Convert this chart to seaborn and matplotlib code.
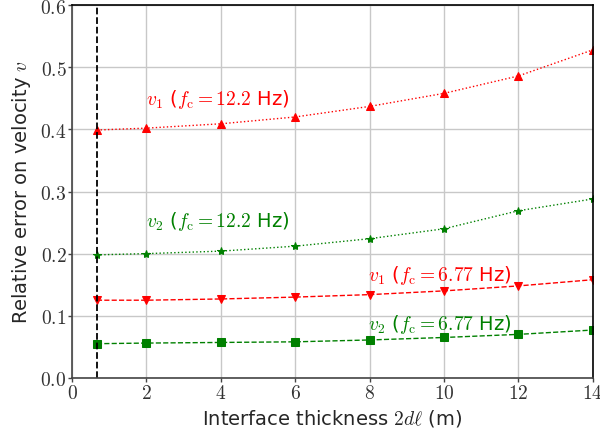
import numpy as np
import pandas as pd
import matplotlib
matplotlib.use("Agg")
import matplotlib.pyplot as plt
import seaborn as sns

thickness = [0.67, 2, 4, 6, 8, 10, 12, 14]
v1_high = [0.399, 0.402, 0.409, 0.420, 0.437, 0.458, 0.486, 0.528]
v2_high = [0.198, 0.200, 0.204, 0.212, 0.224, 0.240, 0.269, 0.288]
v1_low = [0.125, 0.125, 0.127, 0.130, 0.134, 0.140, 0.148, 0.158]
v2_low = [0.055, 0.056, 0.057, 0.058, 0.061, 0.065, 0.070, 0.077]
x_ticks = [0, 2, 4, 6, 8, 10, 12, 14]
y_ticks = [0.0, 0.1, 0.2, 0.3, 0.4, 0.5, 0.6]
vline_x = 0.67

sns.set_style("whitegrid")
plt.rcParams['font.family'] = ['DejaVu Sans']
plt.rcParams['mathtext.fontset'] = 'cm'

fig = plt.figure(figsize=(6.0, 4.39), dpi=100)
ax = fig.add_axes([0.12, 0.137, 0.868, 0.849])

series = [
    (v1_high, 'red', '^', ':', 6),
    (v2_high, 'green', '*', ':', 6),
    (v1_low, 'red', 'v', '--', 6),
    (v2_low, 'green', 's', '--', 5.5),
]
for vals, col, mk, ls, ms in series:
    df = pd.DataFrame({'x': thickness, 'y': vals})
    sns.lineplot(data=df, x='x', y='y', ax=ax, color=col, marker=mk,
                 linestyle=ls, markersize=ms, linewidth=1.0,
                 markeredgecolor=col)

ax.axvline(vline_x, color='black', linestyle='--', linewidth=1.3)

ax.set_xlim(0, 14)
ax.set_ylim(0, 0.6)
ax.set_xticks(x_ticks)
ax.set_yticks(y_ticks)
ax.set_xticklabels([f"${t}$" for t in x_ticks], fontsize=14)
ax.set_yticklabels([f"${t:.1f}$" for t in y_ticks], fontsize=14)
ax.tick_params(axis='both', which='major', direction='out', length=3,
               width=1, color='#444444', labelcolor='#333333', pad=1,
               bottom=True, left=True)
ax.grid(True, color='#c8c8c8', linewidth=1.0)

for s in ['top', 'right']:
    ax.spines[s].set_color('black')
    ax.spines[s].set_linewidth(1.2)
for s in ['left', 'bottom']:
    ax.spines[s].set_color('#444444')
    ax.spines[s].set_linewidth(1.2)

ax.set_xlabel(r"Interface thickness $2d\ell$ (m)", fontsize=14, labelpad=3)
ax.set_ylabel(r"Relative error on velocity $v$", fontsize=14, labelpad=5)

ax.text(2.0, 0.449, r"$v_1$ ($f_\mathrm{c}=12.2$ Hz)", color='red', fontsize=14, va='center')
ax.text(2.0, 0.253, r"$v_2$ ($f_\mathrm{c}=12.2$ Hz)", color='green', fontsize=14, va='center')
ax.text(7.95, 0.166, r"$v_1$ ($f_\mathrm{c}=6.77$ Hz)", color='red', fontsize=14, va='center')
ax.text(7.95, 0.087, r"$v_2$ ($f_\mathrm{c}=6.77$ Hz)", color='green', fontsize=14, va='center')

fig.savefig("out.png", dpi=100)
